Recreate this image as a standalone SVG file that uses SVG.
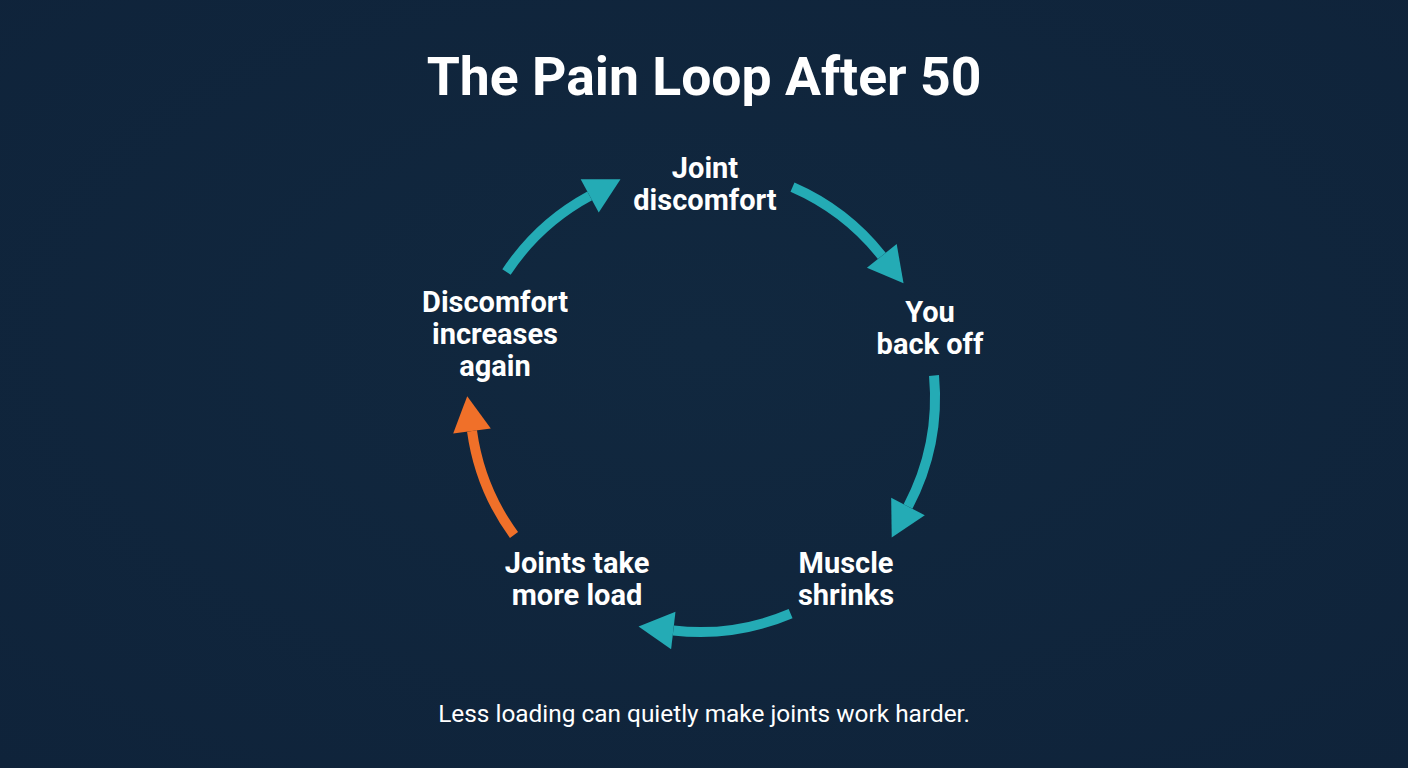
<svg xmlns="http://www.w3.org/2000/svg" width="1408" height="768" viewBox="0 0 1408 768">
  <defs>
    <radialGradient id="bg" cx="50%" cy="45%" r="75%">
      <stop offset="0" stop-color="#11283f"/>
      <stop offset="1" stop-color="#0f233a"/>
    </radialGradient>
    <marker id="headT" markerUnits="userSpaceOnUse" markerWidth="36" markerHeight="40" viewBox="0 0 36 40" refX="0" refY="20" orient="auto" overflow="visible">
      <path d="M0,1 L35,20 L0,39 z" fill="#24abb5"/>
    </marker>
    <marker id="headO" markerUnits="userSpaceOnUse" markerWidth="36" markerHeight="40" viewBox="0 0 36 40" refX="0" refY="20" orient="auto" overflow="visible">
      <path d="M0,1 L35,20 L0,39 z" fill="#f07029"/>
    </marker>
    <style>
      .title { font-family: Roboto, "Liberation Sans", sans-serif; font-weight: 700; font-size: 53.5px; fill: #ffffff; text-anchor: middle; }
      .label { font-family: Roboto, "Liberation Sans", sans-serif; font-weight: 700; font-size: 29px; fill: #ffffff; text-anchor: middle; }
      .sub { font-family: Roboto, "Liberation Sans", sans-serif; font-weight: 400; font-size: 24.4px; fill: #ffffff; text-anchor: middle; }
      .arc { fill: none; stroke-width: 10; stroke-linecap: butt; }
      .teal { stroke: #24abb5; marker-end: url(#headT); }
      .orange { stroke: #f07029; marker-end: url(#headO); }
    </style>
  </defs>
  <rect width="1408" height="768" fill="url(#bg)"/>
  <text class="title" x="704" y="95">The Pain Loop After 50</text>

  <g id="connectors">
    <path class="arc teal" d="M506.5,272 A232,232 0 0 1 589.7,195.9"/>
    <path class="arc teal" d="M792.5,187.2 A232,232 0 0 1 881.8,255.9"/>
    <path class="arc teal" d="M934,375.5 A235,235 0 0 1 908,506.5"/>
    <path class="arc teal" d="M790.6,613.6 A232,232 0 0 1 673.3,630.5"/>
    <path class="arc orange" d="M514,535 A230,230 0 0 1 472,431"/>
  </g>

  <g id="node-joint-discomfort">
    <text class="label" x="705" y="178">Joint</text>
    <text class="label" x="705" y="210">discomfort</text>
  </g>
  <g id="node-you-back-off">
    <text class="label" x="930" y="322">You</text>
    <text class="label" x="930" y="354">back off</text>
  </g>
  <g id="node-muscle-shrinks">
    <text class="label" x="846" y="573">Muscle</text>
    <text class="label" x="846" y="605">shrinks</text>
  </g>
  <g id="node-joints-take-more-load">
    <text class="label" x="577" y="573">Joints take</text>
    <text class="label" x="577" y="605">more load</text>
  </g>
  <g id="node-discomfort-increases">
    <text class="label" x="495" y="312">Discomfort</text>
    <text class="label" x="495" y="344">increases</text>
    <text class="label" x="495" y="376">again</text>
  </g>

  <text class="sub" x="704" y="722">Less loading can quietly make joints work harder.</text>
</svg>
